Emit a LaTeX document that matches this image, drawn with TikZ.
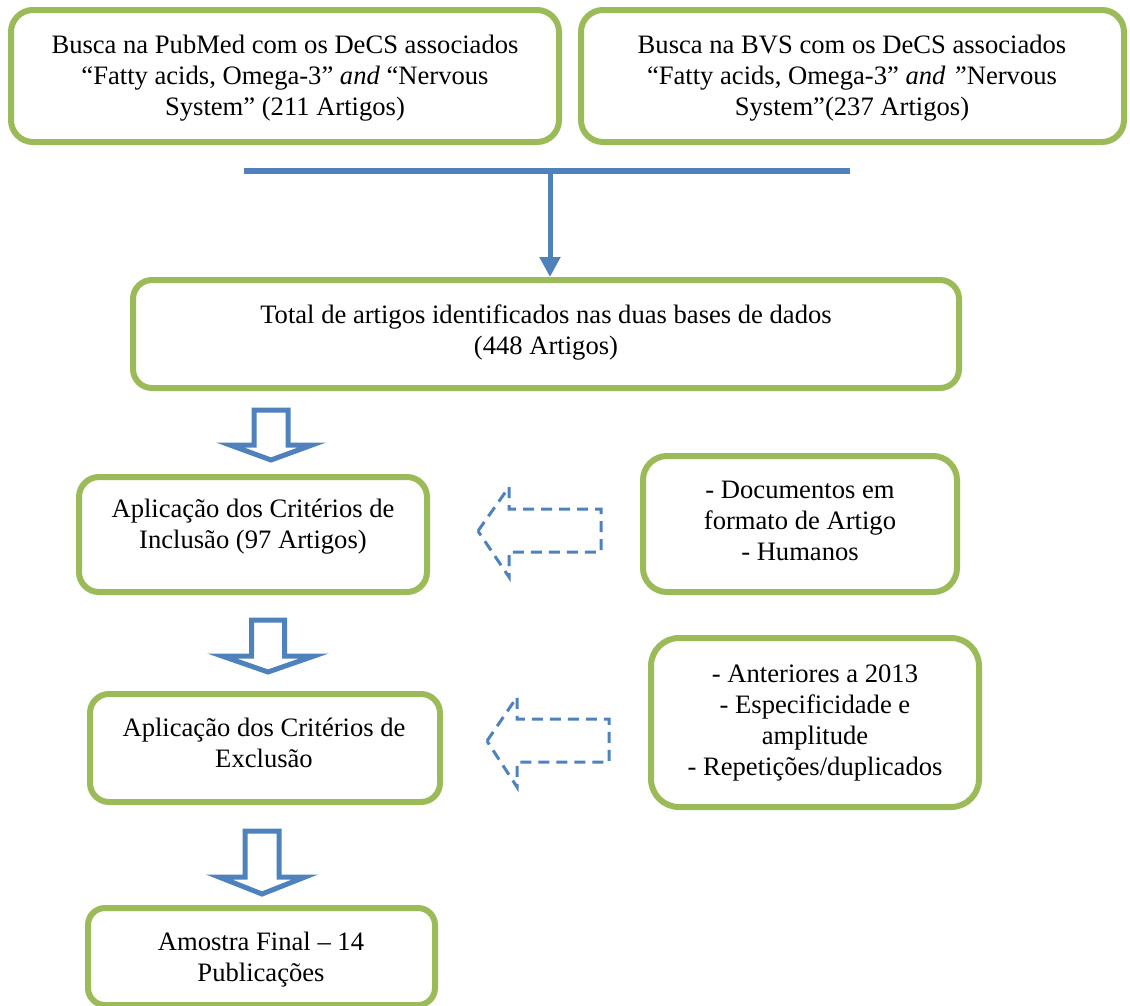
\documentclass[tikz,border=0pt]{standalone}
\usepackage{fontspec}
\setmainfont{Liberation Serif}
\usetikzlibrary{arrows.meta}
\definecolor{boxgreen}{RGB}{155,187,89}
\definecolor{arrowblue}{RGB}{79,129,189}
\begin{document}
\begin{tikzpicture}[x=1pt,y=-1pt,
  gbox/.style={draw=boxgreen, line width=6pt, rounded corners=#1, inner sep=0pt, fill=white},
  txt/.style={align=center, inner sep=0pt, font=\fontsize{26.6}{31}\selectfont},
  blockarrow/.style={draw=arrowblue, line width=5pt, fill=white, line join=miter},
  dasharrow/.style={draw=arrowblue, line width=3pt, dash pattern=on 11pt off 7pt},
  conn/.style={draw=arrowblue, line width=5pt}]
\useasboundingbox (0,0) rectangle (1130,1005);

% boxes
\node[gbox=22pt, minimum width=548pt, minimum height=132pt] (b1) at (285,76) {};
\node[gbox=22pt, minimum width=543pt, minimum height=132pt] (b2) at (852.5,76) {};
\node[gbox=19pt, minimum width=826pt, minimum height=108pt] (b3) at (546,334) {};
\node[gbox=20pt, minimum width=348pt, minimum height=115pt] (b4) at (253,534.5) {};
\node[gbox=24pt, minimum width=314pt, minimum height=136pt] (b5) at (800,524) {};
\node[gbox=19pt, minimum width=350pt, minimum height=108pt] (b6) at (265,748) {};
\node[gbox=28pt, minimum width=328pt, minimum height=169pt] (b7) at (815,722.5) {};
\node[gbox=17pt, minimum width=347pt, minimum height=97pt] (b8) at (261.5,956.5) {};

% texts
\node[txt] (t1) at (285,78) {Busca na PubMed com os DeCS associados\\“Fatty acids, Omega-3” \textit{and} “Nervous\\System” (211 Artigos)};
\node[txt] (t2) at (852,78) {Busca na BVS com os DeCS associados\\“Fatty acids, Omega-3” \textit{and ”}Nervous\\System”(237 Artigos)};
\node[txt] (t3) at (546,332) {Total de artigos identificados nas duas bases de dados\\(448 Artigos)};
\node[txt] (t4) at (253,527) {Aplicação dos Critérios de\\Inclusão (97 Artigos)};
\node[txt] (t5) at (800,521) {- Documentos em\\formato de Artigo\\- Humanos};
\node[txt] (t6) at (264,743) {Aplicação dos Critérios de\\Exclusão};
\node[txt] (t7) at (815,723) {- Anteriores a 2013\\- Especificidade e\\amplitude\\- Repetições/duplicados};
\node[txt] (t8) at (261,960) {Amostra Final – 14\\Publicações};

% merge connector
\coordinate (hl) at (244,171);
\coordinate (hr) at (850,171);
\coordinate (hm) at (550,174);
\draw[conn, line width=6pt] (hl) -- (hr);
\draw[conn, -{Triangle[width=20pt,length=20pt]}] (hm) -- (hm |- b3.north) ;

% block arrows
\draw[blockarrow] (254,410) -- (288,410) -- (288,445) -- (312,445) -- (271,460) -- (230,445) -- (254,445) -- cycle;
\draw[blockarrow] (251.5,620) -- (284.5,620) -- (284.5,656) -- (314,656) -- (268,672) -- (222,656) -- (251.5,656) -- cycle;
\draw[blockarrow] (245,831) -- (279,831) -- (279,877) -- (305,877) -- (262,894) -- (219,877) -- (245,877) -- cycle;

% dashed arrows
\draw[dasharrow] (478,531) -- (509,487) -- (509,509) -- (601,509) -- (601,552) -- (509,552) -- (509,577) -- cycle;
\draw[dasharrow] (487,741) -- (517,697) -- (517,719) -- (609,719) -- (609,762) -- (517,762) -- (517,787) -- cycle;
\end{tikzpicture}
\end{document}
